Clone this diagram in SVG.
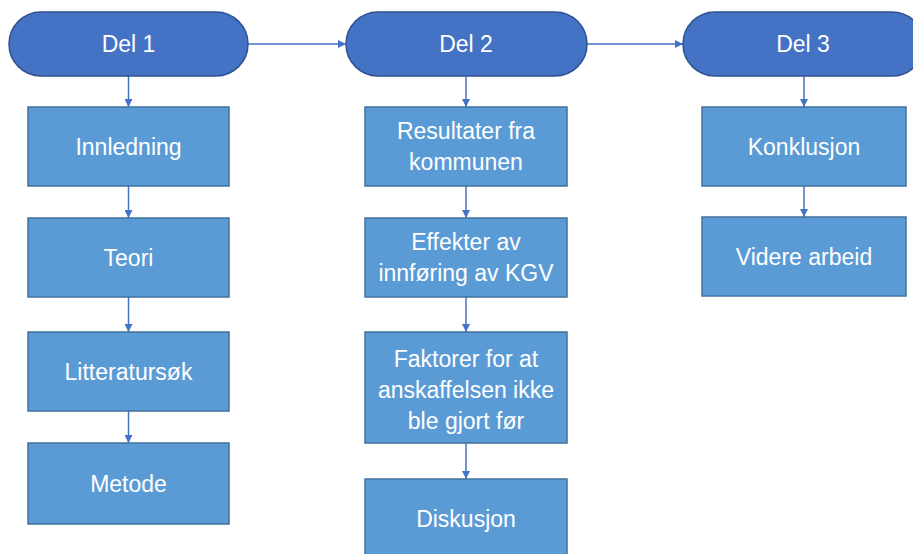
<svg xmlns="http://www.w3.org/2000/svg" width="913" height="554" viewBox="0 0 913 554">
<defs>
<style>
.pill{fill:#4472C4;stroke:#2F528F;stroke-width:1.5}
.box{fill:#5B9BD5;stroke:#41719C;stroke-width:1.5}
.t{fill:#fff;font-family:"Liberation Sans",Arial,sans-serif;font-size:23px;text-anchor:middle}
.c{stroke:#4472C4;stroke-width:1.5;fill:none;marker-end:url(#ah)}
</style>
<marker id="ah" viewBox="0 0 10 10" refX="10" refY="5" markerWidth="8" markerHeight="8" markerUnits="userSpaceOnUse" orient="auto">
<path d="M0,0 L10,5 L0,10 z" fill="#4472C4"/>
</marker>
</defs>
<rect width="913" height="554" fill="#fff"/>
<g id="connectors">
<line class="c" x1="248" y1="44" x2="346" y2="44"/>
<line class="c" x1="587" y1="44" x2="683" y2="44"/>
<line class="c" x1="128.5" y1="76" x2="128.5" y2="107"/>
<line class="c" x1="128.5" y1="186" x2="128.5" y2="218"/>
<line class="c" x1="128.5" y1="297" x2="128.5" y2="332"/>
<line class="c" x1="128.5" y1="411" x2="128.5" y2="443"/>
<line class="c" x1="466" y1="76" x2="466" y2="107"/>
<line class="c" x1="466" y1="186" x2="466" y2="218"/>
<line class="c" x1="466" y1="297" x2="466" y2="332"/>
<line class="c" x1="466" y1="443" x2="466" y2="479"/>
<line class="c" x1="804" y1="76" x2="804" y2="107"/>
<line class="c" x1="804" y1="186" x2="804" y2="217"/>
</g>
<g id="del1"><rect class="pill" x="9" y="12" width="239" height="64" rx="32"/><text class="t" x="128.5" y="52">Del 1</text></g>
<g id="del2"><rect class="pill" x="346" y="12" width="241" height="64" rx="32"/><text class="t" x="466" y="52">Del 2</text></g>
<g id="del3"><rect class="pill" x="683" y="12" width="241" height="64" rx="32"/><text class="t" x="803" y="52">Del 3</text></g>
<g id="innledning"><rect class="box" x="28" y="107" width="201" height="79"/><text class="t" x="128.5" y="155">Innledning</text></g>
<g id="teori"><rect class="box" x="28" y="218" width="201" height="79"/><text class="t" x="128.5" y="266">Teori</text></g>
<g id="litteratursok"><rect class="box" x="28" y="332" width="201" height="79"/><text class="t" x="128.5" y="380">Litteratursøk</text></g>
<g id="metode"><rect class="box" x="28" y="443" width="201" height="81"/><text class="t" x="128.5" y="492">Metode</text></g>
<g id="resultater"><rect class="box" x="365" y="107" width="202" height="79"/><text class="t" x="466" y="139">Resultater fra</text><text class="t" x="466" y="170">kommunen</text></g>
<g id="effekter"><rect class="box" x="365" y="218" width="202" height="79"/><text class="t" x="466" y="250">Effekter av</text><text class="t" x="466" y="281">innføring av KGV</text></g>
<g id="faktorer"><rect class="box" x="365" y="332" width="202" height="111"/><text class="t" x="466" y="367">Faktorer for at</text><text class="t" x="466" y="398">anskaffelsen ikke</text><text class="t" x="466" y="429">ble gjort før</text></g>
<g id="diskusjon"><rect class="box" x="365" y="479" width="202" height="80"/><text class="t" x="466" y="527">Diskusjon</text></g>
<g id="konklusjon"><rect class="box" x="702" y="107" width="204" height="79"/><text class="t" x="804" y="155">Konklusjon</text></g>
<g id="videre"><rect class="box" x="702" y="217" width="204" height="79"/><text class="t" x="804" y="265">Videre arbeid</text></g>
</svg>
